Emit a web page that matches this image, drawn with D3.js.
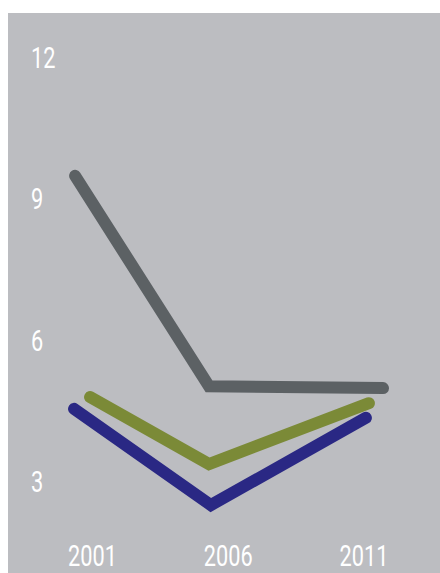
<!DOCTYPE html>
<html><head><meta charset="utf-8">
<script src="https://cdn.jsdelivr.net/npm/d3@7"></script>
<style>html,body{margin:0;padding:0;background:#fff;}svg{display:block;}</style>
</head><body>
<script>
// Data
const years = [2001, 2006, 2011];
const yTicks = [3, 6, 9, 12];
// x positions of each series' vertices (in year units, as drawn)
const grayX = [2000.36, 2005.29, 2011.70];
const grayY = [9.48, 5.02, 4.98];
const greenX = [2000.91, 2005.29, 2011.18];
const greenY = [4.79, 3.37, 4.66];
const blueX = [2000.32, 2005.36, 2011.07];
const blueY = [4.54, 2.50, 4.35];

const W = 440, H = 573;
const svg = d3.select("body").append("svg").attr("width", W).attr("height", H);
svg.append("rect").attr("x", 8).attr("y", 13).attr("width", W - 8).attr("height", H - 13).attr("fill", "#bcbdc1");

const x = d3.scaleLinear().domain([2001, 2011]).range([92.5, 364]);
const y = d3.scaleLinear().domain([3, 12]).range([481.5, 57]);

const font = "Roboto, 'Liberation Sans', sans-serif";
const sx = 0.75;

// Y axis labels
svg.append("g").selectAll("text").data(yTicks).join("text")
  .attr("transform", d => `translate(31,${y(d) + 10.5}) scale(${sx},1)`)
  .attr("fill", "#fff").attr("font-family", font).attr("font-size", 29)
  .text(d => d);

// X axis labels
svg.append("g").selectAll("text").data(years).join("text")
  .attr("transform", d => `translate(${x(d)},566) scale(${sx},1)`)
  .attr("text-anchor", "middle")
  .attr("fill", "#fff").attr("font-family", font).attr("font-size", 29)
  .text(d => d);

const series = [
  {xs: grayX, ys: grayY, color: "#5c6164"},
  {xs: greenX, ys: greenY, color: "#7b8a37"},
  {xs: blueX, ys: blueY, color: "#2a2884"}
];
const line = d3.line().x(d => x(d[0])).y(d => y(d[1]));
svg.append("g").selectAll("path").data(series).join("path")
  .attr("d", s => line(d3.zip(s.xs, s.ys)))
  .attr("fill", "none").attr("stroke", s => s.color)
  .attr("stroke-width", 12).attr("stroke-linecap", "round").attr("stroke-linejoin", "miter");
</script>
</body></html>
